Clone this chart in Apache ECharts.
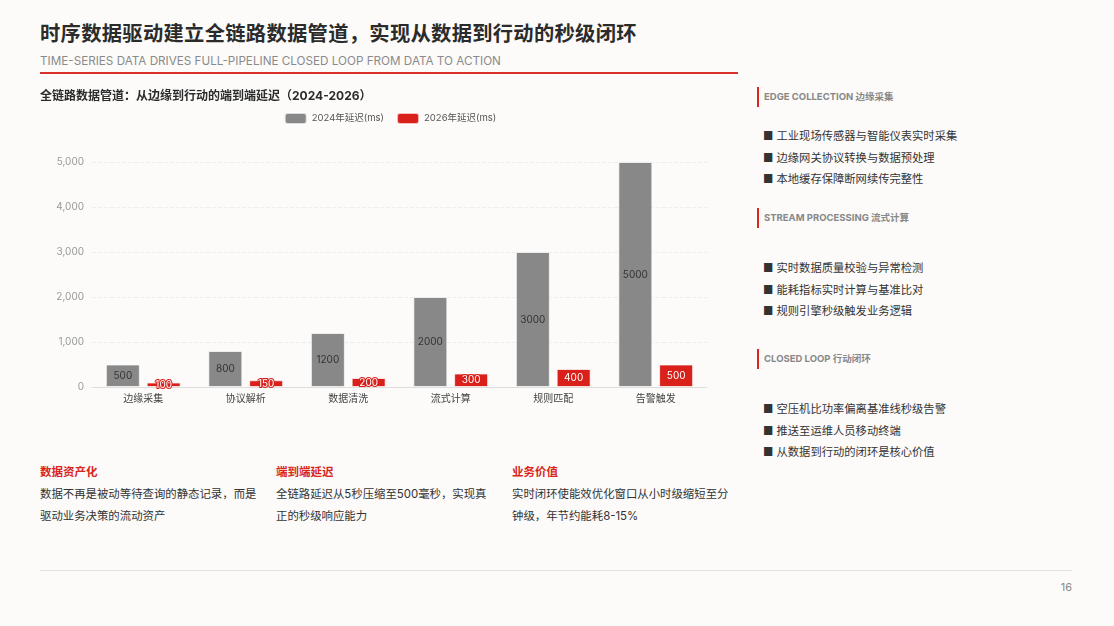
<!DOCTYPE html>
<html>
<head>
<meta charset="utf-8">
<script src="https://cdn.jsdelivr.net/npm/echarts@6/dist/echarts.min.js"></script>
<style>
  html, body { margin: 0; padding: 0; }
  body {
    width: 1114px; height: 626px; position: relative; overflow: hidden;
    background: #fcfbfa; font-family: Inter, "Noto Sans CJK SC", sans-serif; color: #333;
  }
  .title { position: absolute; left: 40px; top: 17px; font-size: 20.3px; font-weight: 700; color: #2b2b2b; letter-spacing: 0.3px; }
  .subtitle { position: absolute; left: 40px; top: 54px; font-size: 11.7px; color: #8a8a8a; }
  .rule { position: absolute; left: 40px; top: 72px; width: 698px; height: 2px; background: #d9302a; }
  #chart { position: absolute; left: 40px; top: 85px; width: 700px; height: 330px; }
  .side { position: absolute; left: 757px; width: 320px; }
  .side .head { border-left: 2px solid #d9261c; padding-left: 5px; height: 20px; line-height: 20px; font-size: 9.5px; font-weight: 700; color: #888; }
  .side .item { font-size: 11.3px; color: #333; height: 21.5px; line-height: 21.5px; padding-left: 6px; }
  .note { position: absolute; top: 462px; width: 220px; }
  .note .nh { font-size: 11.5px; font-weight: 700; color: #d9261c; height: 20px; line-height: 20px; }
  .note .nt { font-size: 11.4px; color: #333; line-height: 22px; margin-top: 1px; }
  .foot { position: absolute; left: 40px; top: 570px; width: 1032px; height: 1px; background: #e6e4e2; }
  .page { position: absolute; right: 42px; top: 580px; font-size: 11px; color: #888; }
</style>
</head>
<body>
<div class="title">时序数据驱动建立全链路数据管道，实现从数据到行动的秒级闭环</div>
<div class="subtitle">TIME-SERIES DATA DRIVES FULL-PIPELINE CLOSED LOOP FROM DATA TO ACTION</div>
<div class="rule"></div>
<div id="chart"></div>

<div class="side" style="top:87px;">
  <div class="head">EDGE COLLECTION 边缘采集</div>
  <div style="height:19px"></div>
  <div class="item">■ 工业现场传感器与智能仪表实时采集</div>
  <div class="item">■ 边缘网关协议转换与数据预处理</div>
  <div class="item">■ 本地缓存保障断网续传完整性</div>
</div>
<div class="side" style="top:208px;">
  <div class="head">STREAM PROCESSING 流式计算</div>
  <div style="height:30px"></div>
  <div class="item">■ 实时数据质量校验与异常检测</div>
  <div class="item">■ 能耗指标实时计算与基准比对</div>
  <div class="item">■ 规则引擎秒级触发业务逻辑</div>
</div>
<div class="side" style="top:349px;">
  <div class="head">CLOSED LOOP 行动闭环</div>
  <div style="height:30px"></div>
  <div class="item">■ 空压机比功率偏离基准线秒级告警</div>
  <div class="item">■ 推送至运维人员移动终端</div>
  <div class="item">■ 从数据到行动的闭环是核心价值</div>
</div>

<div class="note" style="left:40px;">
  <div class="nh">数据资产化</div>
  <div class="nt">数据不再是被动等待查询的静态记录，而是驱动业务决策的流动资产</div>
</div>
<div class="note" style="left:276px;">
  <div class="nh">端到端延迟</div>
  <div class="nt">全链路延迟从5秒压缩至500毫秒，实现真正的秒级响应能力</div>
</div>
<div class="note" style="left:512px;">
  <div class="nh">业务价值</div>
  <div class="nt">实时闭环使能效优化窗口从小时级缩短至分钟级，年节约能耗8-15%</div>
</div>

<div class="foot"></div>
<div class="page">16</div>

<script>
// 数据
var stages = ['边缘采集', '协议解析', '数据清洗', '流式计算', '规则匹配', '告警触发'];
var latency2024 = [500, 800, 1200, 2000, 3000, 5000];
var latency2026 = [100, 150, 200, 300, 400, 500];
var seriesNames = ['2024年延迟(ms)', '2026年延迟(ms)'];

var chart = echarts.init(document.getElementById('chart'));
var option = {
  animation: false,
  textStyle: { fontFamily: 'Inter, "Noto Sans CJK SC", sans-serif' },
  title: {
    text: '全链路数据管道：从边缘到行动的端到端延迟（2024-2026）',
    left: 0,
    top: 5,
    padding: 0,
    textStyle: { fontSize: 12, fontWeight: 'bold', color: '#2b2b2b' }
  },
  legend: {
    top: 22,
    left: 'center',
    itemWidth: 22,
    itemHeight: 11,
    itemGap: 12,
    textStyle: { fontSize: 9.5, color: '#555' },
    data: seriesNames
  },
  grid: { left: 52, right: 33, top: 77, bottom: 28 },
  xAxis: {
    type: 'category',
    data: stages,
    axisLine: { lineStyle: { color: '#dddddd' } },
    axisTick: { lineStyle: { color: '#dddddd' } },
    axisLabel: { fontSize: 10, color: '#444', margin: 7 }
  },
  yAxis: {
    type: 'value',
    min: 0,
    max: 5000,
    interval: 1000,
    axisLine: { show: false },
    axisTick: { show: false },
    axisLabel: {
      fontSize: 10, color: '#999',
      formatter: function (v) { return v.toLocaleString('en-US'); }
    },
    splitLine: { lineStyle: { type: 'dashed', color: '#eeeeee' } }
  },
  series: [
    {
      name: seriesNames[0],
      type: 'bar',
      barWidth: 34,
      barGap: '20%',
      data: latency2024,
      itemStyle: { color: '#888888', borderColor: 'rgba(255,255,255,0.7)', borderWidth: 1 },
      label: { show: true, position: 'inside', fontSize: 10, color: '#333' }
    },
    {
      name: seriesNames[1],
      type: 'bar',
      barWidth: 34,
      data: latency2026,
      itemStyle: { color: '#d9201a', borderColor: 'rgba(255,255,255,0.7)', borderWidth: 1 },
      label: {
        show: true, position: 'inside', fontSize: 10, color: '#fff',
        textBorderColor: '#d9201a', textBorderWidth: 2
      }
    }
  ]
};
chart.setOption(option);
</script>
</body>
</html>
